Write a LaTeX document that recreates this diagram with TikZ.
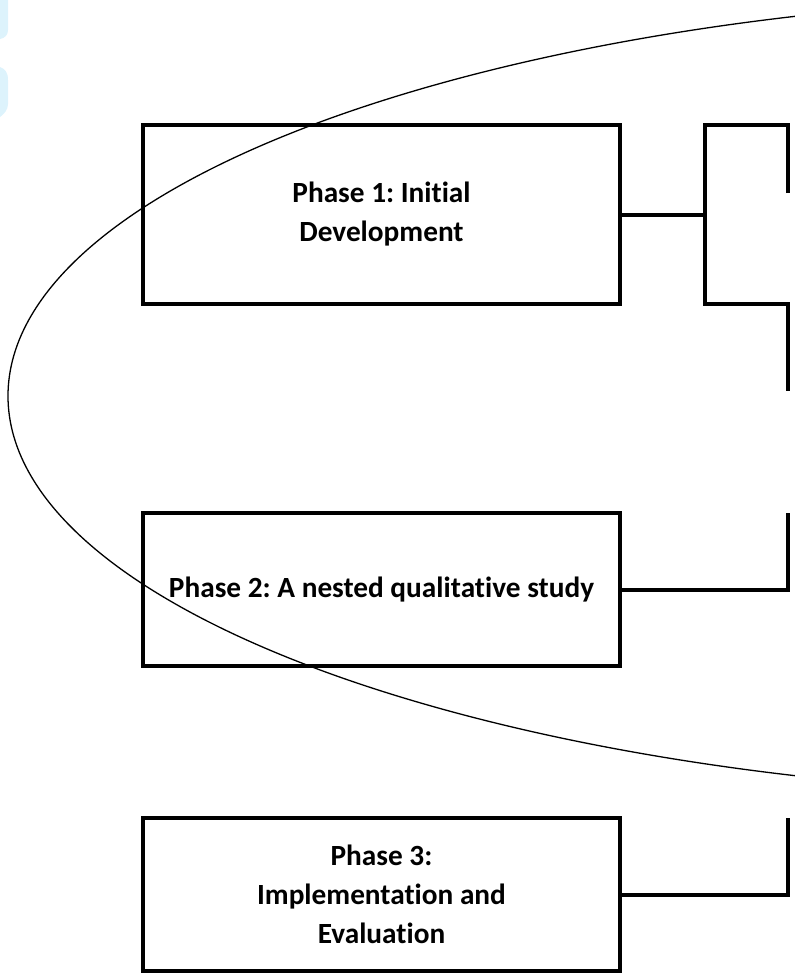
\documentclass[tikz,border=0pt]{standalone}
\usepackage{fontspec}
\setmainfont[Ligatures=NoCommon]{Carlito}
\frenchspacing
\usetikzlibrary{positioning}
\definecolor{wmblue}{HTML}{DDF3FC}

\begin{document}
\begin{tikzpicture}[x=1pt,y=-1pt,
	phase/.style={draw,line width=4pt,align=center,inner sep=0pt,
		font=\bfseries\fontsize{29.3}{39}\selectfont},
	link/.style={line width=4pt}]
	\useasboundingbox (0,0) rectangle (795,978);
	\clip (0,0) rectangle (795,978);
	
	% bits of a watermark at the left edge
	\fill[wmblue] (0,0) -- (8,0) -- (8,30) .. controls (8,35) and (5,38) .. (0,39) -- cycle;
	\fill[wmblue] (0,67) .. controls (5,69) and (8,72) .. (8,80) -- (8,104) .. controls (8,110) and (4,114) .. (0,117) -- cycle;
	
	\node[phase,minimum width=477pt,minimum height=179pt] (ph1) at (381.5,214.5) {Phase 1: Initial\\Development};
	\node[phase,minimum width=477pt,minimum height=153pt] (ph2) at (381.5,589.5) {Phase 2: A nested qualitative study};
	\node[phase,minimum width=477pt,minimum height=153pt] (ph3) at (381.5,894.5) {Phase 3:\\Implementation and\\Evaluation};
	
	% bracket after phase 1
	\coordinate (fork) at (705,214.5);
	\coordinate (forkup) at (705,125);
	\coordinate (forkdn) at (705,304);
	\coordinate (endup) at (788,193);
	\coordinate (enddn) at (788,391);
	\draw[link] (ph1.east) -- (fork);
	\draw[link] (endup) |- (forkup) -- (forkdn) -| (enddn);
	
	% phases 2 and 3
	\coordinate (end2) at (788,513);
	\coordinate (end3) at (788,818);
	\draw[link] (ph2.east) -| (end2);
	\draw[link] (ph3.east) -| (end3);
	
	\draw[line width=1.3pt] (1158,396) ellipse [x radius=1150pt,y radius=400pt];
\end{tikzpicture}
\end{document}
